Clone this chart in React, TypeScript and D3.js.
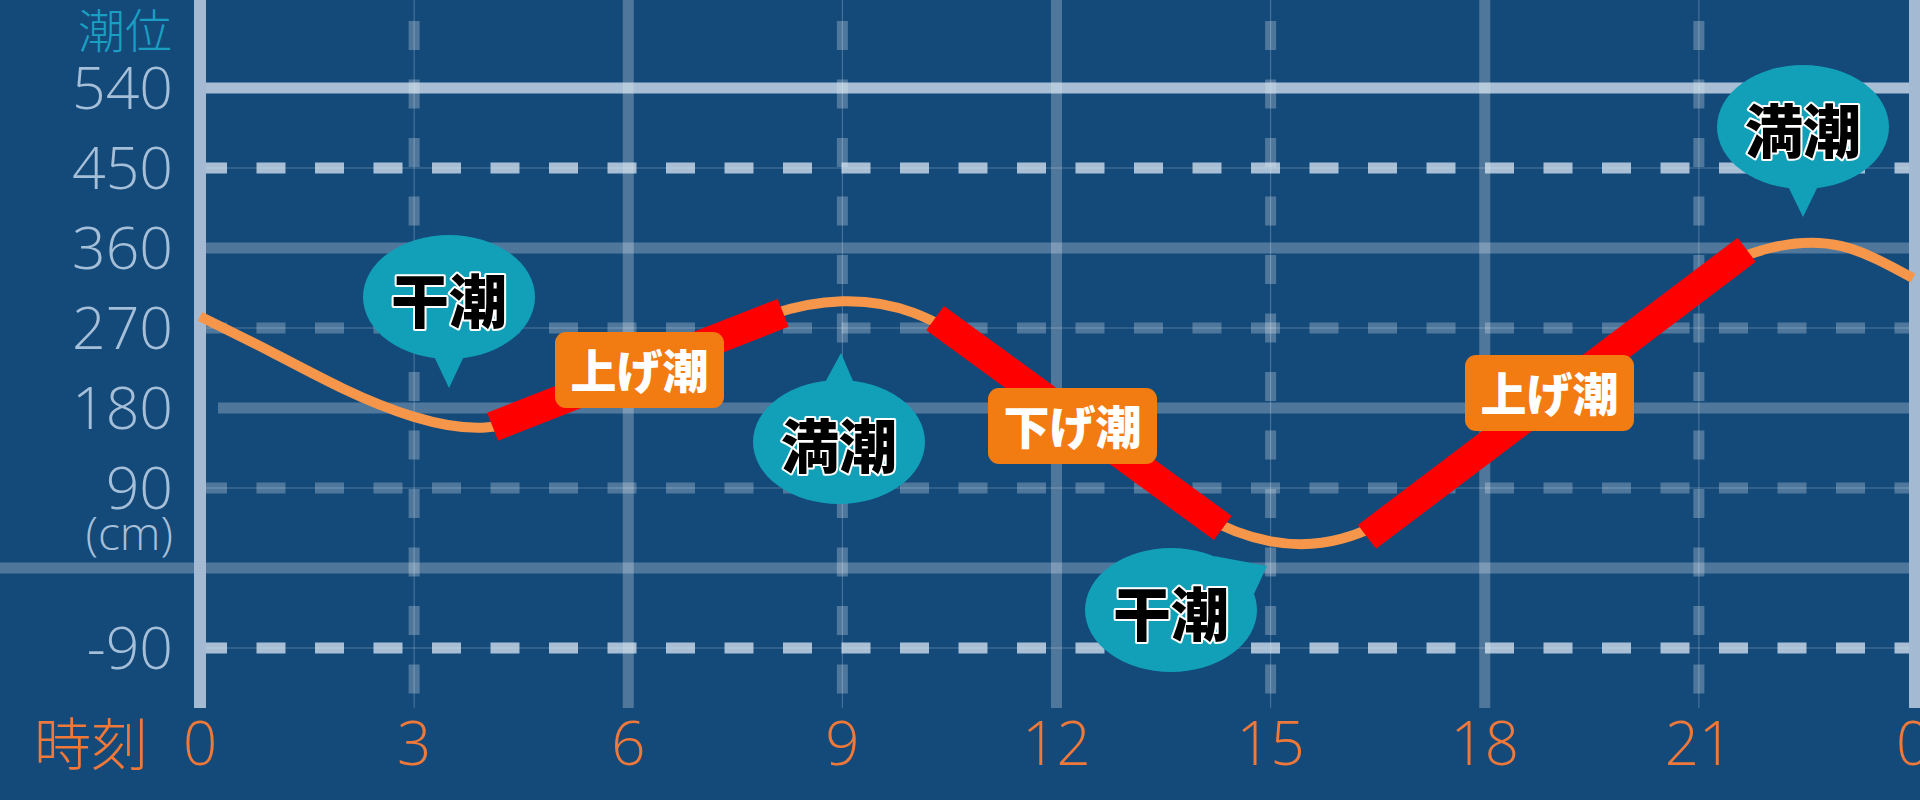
import * as d3 from 'd3';
import React, { useEffect, useRef } from 'react';

// tide level (cm), one value per hour
const hours = [0, 1, 2, 3, 4, 5, 6, 7, 8, 9, 10, 11, 12, 13, 14, 15, 16, 17, 18, 19, 20, 21, 22, 23, 24];
const tideLevels = [283, 243, 202, 170, 158, 178, 212, 250, 285, 300, 287, 242, 181, 118, 61, 30, 33, 72, 133, 198, 262, 325, 360, 362, 326];

const xTicks = [0, 3, 6, 9, 12, 15, 18, 21, 24];
const xTickLabels = ['0', '3', '6', '9', '12', '15', '18', '21', '0'];
const xSolid = [6, 12, 18];
const xDashed = [3, 9, 15, 21];

const yTicks = [540, 450, 360, 270, 180, 90, -90];
const ySolid = [540, 360, 180, 0];
const yDashed = [450, 270, 90, -90];

// rising / falling stretches: [hour, level] at both ends
const segStart: [number, number][] = [[4.1, 159], [10.3, 281], [16.35, 35]];
const segEnd: [number, number][] = [[8.17, 287], [14.33, 45], [21.67, 358]];
const segLabels = ['上げ潮', '下げ潮', '上げ潮'];

const eventLabels = ['干潮', '満潮', '干潮', '満潮'];

const BG = '#144a7a';
const DIM = 'rgba(255,255,255,0.25)';
const BRIGHT = 'rgba(225,236,247,0.72)';
const AXIS = '#a3bad2';
const JP = '"Noto Sans CJK JP", "Noto Sans", sans-serif';
const NUM = '"Open Sans", "Noto Sans", sans-serif';

const TideChart: React.FC = () => {
    const ref = useRef<SVGSVGElement | null>(null);

    useEffect(() => {
        const width = 1920, height = 800;
        const x = d3.scaleLinear().domain([0, 24]).range([200, 1913]);
        const y = d3.scaleLinear().domain([-90, 540]).range([648, 88]);
        const gridBottom = 708;

        const svg = d3.select(ref.current)
            .attr('width', width)
            .attr('height', height)
            .html('');

        svg.append('rect').attr('width', width).attr('height', height).attr('fill', BG);

        const grid = svg.append('g');

        // vertical grid
        xSolid.forEach(h => {
            grid.append('line')
                .attr('x1', x(h)).attr('x2', x(h)).attr('y1', 0).attr('y2', gridBottom)
                .attr('stroke', DIM).attr('stroke-width', 11);
        });
        xDashed.forEach(h => {
            grid.append('line')
                .attr('x1', x(h)).attr('x2', x(h)).attr('y1', 0).attr('y2', gridBottom)
                .attr('stroke', DIM).attr('stroke-width', 1);
            grid.append('line')
                .attr('x1', x(h)).attr('x2', x(h)).attr('y1', 21).attr('y2', gridBottom)
                .attr('stroke', DIM).attr('stroke-width', 11)
                .attr('stroke-dasharray', '29 29.5');
        });

        // horizontal grid
        ySolid.forEach(v => {
            grid.append('line')
                .attr('x1', v === 0 ? 0 : v === 180 ? 218 : x(0)).attr('x2', width)
                .attr('y1', y(v)).attr('y2', y(v))
                .attr('stroke', v === 540 ? BRIGHT : DIM).attr('stroke-width', 11);
        });
        yDashed.forEach(v => {
            const bright = v === 450 || v === -90;
            grid.append('line')
                .attr('x1', x(0)).attr('x2', width).attr('y1', y(v)).attr('y2', y(v))
                .attr('stroke', DIM).attr('stroke-width', 1);
            grid.append('line')
                .attr('x1', x(0) - 2).attr('x2', width).attr('y1', y(v)).attr('y2', y(v))
                .attr('stroke', bright ? BRIGHT : DIM).attr('stroke-width', 11)
                .attr('stroke-dasharray', '29 29.5');
        });

        // axes lines
        svg.append('line')
            .attr('x1', x(0)).attr('x2', x(0)).attr('y1', 0).attr('y2', gridBottom)
            .attr('stroke', AXIS).attr('stroke-width', 12);
        svg.append('line')
            .attr('x1', x(24) + 2).attr('x2', x(24) + 2).attr('y1', 0).attr('y2', gridBottom)
            .attr('stroke', AXIS).attr('stroke-width', 12);

        // y labels
        svg.append('text')
            .attr('x', 172).attr('y', 48)
            .attr('text-anchor', 'end')
            .attr('font-family', JP).attr('font-weight', 300)
            .attr('font-size', 47).attr('fill', '#1a9fc2')
            .text('潮位');
        svg.selectAll('.ylab')
            .data(yTicks)
            .join('text')
            .attr('class', 'ylab')
            .attr('x', 173).attr('y', d => y(d))
            .attr('dy', '0.36em')
            .attr('text-anchor', 'end')
            .attr('font-family', NUM).attr('font-weight', 300)
            .attr('font-size', 59).attr('fill', '#a6bfd8')
            .text(d => String(d));
        svg.append('text')
            .attr('x', 173).attr('y', 550)
            .attr('text-anchor', 'end')
            .attr('font-family', NUM).attr('font-weight', 300)
            .attr('font-size', 46).attr('fill', '#a6bfd8')
            .text('(cm)');

        // x labels
        svg.append('text')
            .attr('x', 34).attr('y', 765)
            .attr('font-family', JP).attr('font-weight', 300)
            .attr('font-size', 57).attr('fill', '#f07838')
            .text('時刻');
        svg.selectAll('.xlab')
            .data(xTicks)
            .join('text')
            .attr('class', 'xlab')
            .attr('x', d => x(d)).attr('y', 765)
            .attr('text-anchor', 'middle')
            .attr('font-family', NUM).attr('font-weight', 300)
            .attr('font-size', 60).attr('fill', '#f07838')
            .text((d, i) => xTickLabels[i]);

        // tide curve
        const line = d3.line<number>()
            .x((d, i) => x(hours[i]))
            .y(d => y(d))
            .curve(d3.curveNatural);
        svg.append('path')
            .datum(tideLevels)
            .attr('d', line)
            .attr('fill', 'none')
            .attr('stroke', '#f5964a')
            .attr('stroke-width', 10);

        // rising / falling segments
        const seg = d3.line<[number, number]>().x(d => x(d[0])).y(d => y(d[1]));
        segStart.forEach((s, i) => {
            svg.append('path')
                .datum([s, segEnd[i]])
                .attr('d', seg)
                .attr('fill', 'none')
                .attr('stroke', '#ff0000')
                .attr('stroke-width', 30)
                .attr('stroke-linecap', 'butt');
        });

        // orange tags
        const tagBoxes = [
            { x: 555, y: 332 },
            { x: 988, y: 388 },
            { x: 1465, y: 355 },
        ];
        tagBoxes.forEach((b, i) => {
            const g = svg.append('g').attr('transform', `translate(${b.x},${b.y})`);
            g.append('rect')
                .attr('width', 169).attr('height', 76).attr('rx', 11)
                .attr('fill', '#f27b12');
            g.append('text')
                .attr('x', 84.5).attr('y', 39)
                .attr('dy', '0.36em')
                .attr('text-anchor', 'middle')
                .attr('font-family', JP).attr('font-weight', 900)
                .attr('font-size', 46).attr('fill', '#ffffff')
                .text(segLabels[i]);
        });

        // speech bubbles
        const bubbles = [
            { cx: 449, cy: 297, tail: [[432, 352], [466, 352], [449, 388]] },
            { cx: 839, cy: 442, tail: [[822, 388], [856, 388], [841, 353]] },
            { cx: 1171, cy: 610, tail: [[1214, 556], [1254, 594], [1267, 566]] },
            { cx: 1803, cy: 127, tail: [[1786, 182], [1820, 182], [1803, 217]] },
        ];
        bubbles.forEach((b, i) => {
            const g = svg.append('g');
            g.append('ellipse')
                .attr('cx', b.cx).attr('cy', b.cy).attr('rx', 86).attr('ry', 62)
                .attr('fill', '#12a0b9');
            g.append('path')
                .attr('d', d3.line()(b.tail as [number, number][]) + 'Z')
                .attr('fill', '#12a0b9');
            g.append('text')
                .attr('x', b.cx).attr('y', b.cy + 5)
                .attr('dy', '0.36em')
                .attr('text-anchor', 'middle')
                .attr('font-family', JP).attr('font-weight', 900)
                .attr('font-size', 58).attr('fill', '#000000')
                .attr('stroke', '#ffffff').attr('stroke-width', 4)
                .attr('stroke-linejoin', 'round')
                .attr('paint-order', 'stroke')
                .text(eventLabels[i]);
        });
    }, []);

    return <svg ref={ref} style={{ display: 'block' }}></svg>;
};

export default function App() {
    return (
        <div>
            <style>{'body{margin:0;background:#144a7a;overflow:hidden}'}</style>
            <TideChart />
        </div>
    );
}
